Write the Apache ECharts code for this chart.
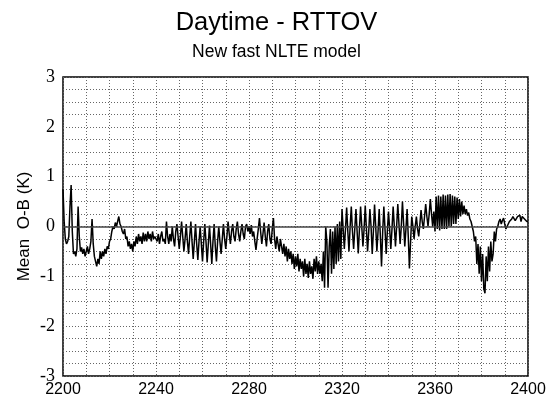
<!DOCTYPE html>
<html>
<head>
<meta charset="utf-8">
<script src="https://cdn.jsdelivr.net/npm/echarts@6/dist/echarts.min.js"></script>
<style>
  html, body { margin: 0; padding: 0; background: #fff; }
  #chart { width: 553px; height: 398px; }
</style>
</head>
<body>
<div id="chart"></div>
<script>
// Channel grid: wavenumbers (cm-1) from 2200 to 2400, every 0.5
const firstWavenumber = 2200;
const channelSpacing = 0.5;

// Mean O-B (K), one value per channel, in 40 cm-1 blocks
const ob2200 = [
  0.75, 0.1, -0.25, -0.35, -0.3, -0.2, 0.4, 0.83, -0.1, -0.55,
  -0.5, -0.6, -0.45, 0.4, -0.2, -0.5, -0.42, -0.55, -0.45, -0.6,
  -0.5, -0.4, -0.55, -0.45, -0.3, 0.15, -0.35, -0.6, -0.7, -0.8,
  -0.65, -0.75, -0.5, -0.65, -0.5, -0.6, -0.45, -0.55, -0.4, -0.45,
  -0.3, -0.25, -0.1, 0.0, -0.05, 0.08, 0.0, 0.1, 0.2, 0.05,
  0.0, -0.1, -0.15, -0.05, -0.25, -0.2, -0.4, -0.3, -0.45, -0.35,
  -0.5, -0.3, -0.4, -0.2, -0.35, -0.15, -0.3, -0.2, -0.35, -0.12,
  -0.3, -0.15, -0.3, -0.1, -0.25, -0.15, -0.3, -0.1, -0.25, -0.2
];
const ob2240 = [
  -0.2, -0.3, -0.15, -0.35, -0.2, -0.1, -0.3, -0.25, -0.35, 0.1,
  -0.2, -0.35, -0.15, -0.3, 0.0, -0.25, -0.4, -0.1, 0.05, -0.2,
  -0.45, -0.2, 0.1, -0.2, -0.5, -0.25, 0.05, -0.3, -0.55, -0.2,
  0.1, -0.3, -0.65, -0.3, 0.05, -0.35, -0.67, -0.3, 0.0, -0.35,
  -0.7, -0.3, 0.05, -0.3, -0.72, -0.35, 0.02, -0.35, -0.75, -0.3,
  0.05, -0.4, -0.7, -0.3, 0.0, -0.3, -0.55, -0.25, 0.05, -0.25,
  -0.45, -0.2, 0.1, -0.15, -0.35, -0.1, 0.05, -0.2, -0.3, -0.05,
  0.1, -0.15, -0.3, -0.1, 0.05, -0.15, -0.25, 0.0, 0.05, -0.1
];
const ob2280 = [
  0.0, -0.15, 0.03, -0.2, -0.1, -0.3, -0.47, -0.25, -0.05, 0.17,
  -0.1, -0.35, -0.15, 0.08, -0.2, -0.4, -0.1, 0.05, -0.25, -0.35,
  -0.05, 0.17, -0.25, -0.45, -0.2, -0.35, -0.5, -0.25, -0.4, -0.55,
  -0.35, -0.6, -0.4, -0.7, -0.45, -0.65, -0.5, -0.75, -0.55, -0.85,
  -0.6, -0.8, -0.55, -0.9, -0.65, -0.85, -0.7, -1.0, -0.65, -0.95,
  -0.75, -1.03, -0.7, -0.95, -0.8, -1.05, -0.65, -0.9, -0.6, -0.95,
  -0.7, -0.95, -0.75, -1.1, -0.5, -1.23, 0.0, -0.3, -1.23, -0.4,
  -0.05, -0.95, -0.1, -0.85, 0.0, -0.75, 0.05, -0.7, 0.1, -0.65
];
const ob2320 = [
  0.35, -0.05, -0.45, -0.05, 0.38, -0.1, -0.5, 0.0, 0.4, -0.1,
  -0.45, -0.05, 0.35, -0.1, -0.54, -0.05, 0.4, 0.0, -0.4, -0.05,
  0.42, -0.05, -0.5, -0.1, 0.35, 0.0, -0.55, -0.1, 0.44, 0.0,
  -0.5, -0.1, 0.35, -0.2, -0.8, -0.1, 0.4, -0.05, -0.55, -0.1,
  0.3, -0.05, -0.45, -0.05, 0.4, 0.0, -0.4, 0.0, 0.45, 0.05,
  -0.35, 0.0, 0.5, 0.05, -0.4, -0.05, 0.35, -0.2, -0.84, -0.3,
  0.2, 0.0, -0.25, 0.0, 0.2, -0.05, -0.2, 0.05, 0.33, 0.1,
  -0.05, 0.2, 0.45, 0.2, 0.0, 0.25, 0.55, 0.25, 0.0, 0.3
];
const ob2360 = [
  -0.1, 0.6, -0.05, 0.62, -0.08, 0.6, -0.05, 0.64, -0.05, 0.62,
  -0.05, 0.64, 0.0, 0.65, 0.0, 0.62, 0.05, 0.6, 0.05, 0.58,
  0.15, 0.55, 0.2, 0.5, 0.25, 0.42, 0.25, 0.35, 0.22, 0.28,
  0.15, 0.1, 0.0, -0.1, -0.3, -0.2, -0.75, -0.35, -0.95, -0.4,
  -1.1, -0.55, -1.25, -1.34, -0.6, -1.1, -0.4, -0.9, -0.3, -0.7,
  -0.55, -0.1, -0.3, -0.05, 0.0, 0.1, 0.15, 0.05, 0.12, 0.17,
  0.05, -0.05, -0.07, 0.05, 0.1, 0.12, 0.15, 0.2, 0.18, 0.12,
  0.15, 0.2, 0.17, 0.23, 0.1, 0.2, 0.22, 0.15, 0.12, 0.1,
  0.1
];

const meanOB = [].concat(ob2200, ob2240, ob2280, ob2320, ob2360);
const seriesData = meanOB.map((v, i) => [firstWavenumber + i * channelSpacing, v]);

const chart = echarts.init(document.getElementById('chart'), null, { renderer: 'canvas' });

const gridDots = { show: true, lineStyle: { color: '#666', width: 1, type: [1, 2] } };
const sans = "Liberation Sans";
const serif = "serif";

chart.setOption({
  backgroundColor: '#fff',
  animation: false,
  title: [
    {
      text: 'Daytime - RTTOV',
      left: 'center',
      top: 5,
      textStyle: { fontFamily: sans, fontSize: 25.5, fontWeight: 'normal', color: '#000' }
    },
    {
      text: 'New fast NLTE model',
      left: 'center',
      top: 38,
      textStyle: { fontFamily: sans, fontSize: 17.5, fontWeight: 'normal', color: '#000' }
    }
  ],
  grid: {
    left: 63, right: 25, top: 77, bottom: 22,
    show: true, borderColor: '#000', borderWidth: 1.5, backgroundColor: 'transparent'
  },
  xAxis: {
    type: 'value',
    min: 2200, max: 2400, interval: 40,
    axisLine: { show: false },
    axisTick: { show: false },
    axisLabel: {
      fontFamily: sans, fontSize: 16, color: '#000', margin: 6,
      formatter: (v) => String(v)
    },
    splitLine: gridDots,
    minorTick: { show: false, splitNumber: 4 },
    minorSplitLine: gridDots
  },
  yAxis: {
    type: 'value',
    min: -3, max: 3, interval: 1,
    name: 'Mean  O-B (K)',
    nameLocation: 'middle',
    nameGap: 30,
    nameMoveOverlap: false,
    nameTextStyle: { fontFamily: sans, fontSize: 17, color: '#000' },
    axisLine: { show: false },
    axisTick: { show: false },
    axisLabel: {
      fontFamily: serif, fontSize: 18, color: '#000', margin: 8,
      formatter: (v) => String(v)
    },
    splitLine: gridDots,
    minorTick: { show: false, splitNumber: 4 },
    minorSplitLine: gridDots
  },
  series: [
    {
      type: 'line',
      data: seriesData,
      showSymbol: false,
      symbol: 'none',
      lineStyle: { color: '#000', width: 1.5 },
      markLine: {
        silent: true,
        symbol: 'none',
        label: { show: false },
        lineStyle: { color: '#444', width: 1.5, type: 'solid' },
        data: [{ yAxis: 0 }]
      },
      z: 3
    }
  ]
});
</script>
</body>
</html>
